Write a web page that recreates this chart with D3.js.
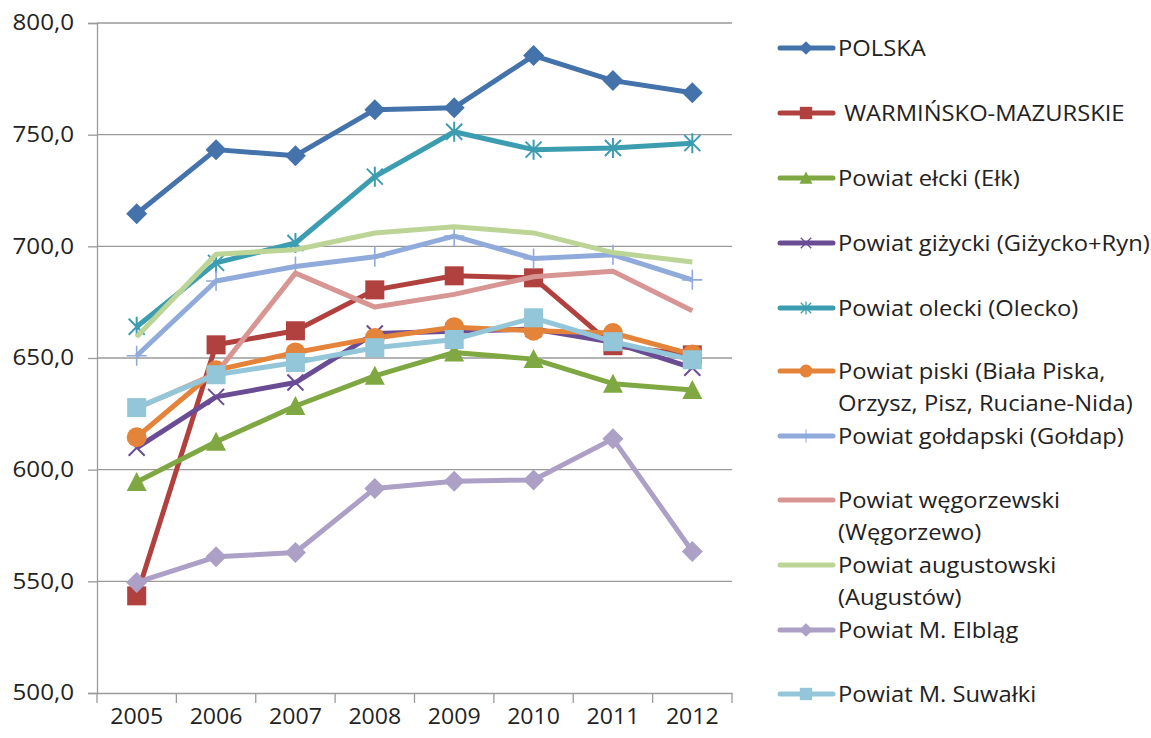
<!DOCTYPE html>
<html><head>
<meta charset="utf-8">
<script src="https://d3js.org/d3.v7.min.js"></script>
<style>
  body { margin: 0; background: #fff; }
  text { font-family: "Open Sans", Lato, sans-serif; fill: #222; white-space: pre; }
</style>
</head>
<body>
<svg id="chart" width="1151" height="738"></svg>
<script>
// data
const years = ["2005", "2006", "2007", "2008", "2009", "2010", "2011", "2012"];
const yTicks = [500, 550, 600, 650, 700, 750, 800];

const polska      = [714.6, 743.3, 740.6, 761.2, 762.1, 785.4, 774.2, 768.8];
const warmMaz     = [543.5, 655.9, 662.2, 680.5, 686.8, 685.9, 655.5, 651.4];
const elk         = [594.5, 612.5, 628.5, 642.0, 652.5, 649.5, 638.5, 635.7];
const gizycki     = [609.8, 632.6, 639.0, 661.0, 662.0, 663.0, 657.0, 645.6];
const olecki      = [664.0, 692.6, 701.5, 731.2, 751.3, 743.3, 744.0, 746.2];
const piski       = [614.5, 644.5, 652.5, 659.0, 663.8, 662.2, 661.2, 651.6];
const goldapski   = [651.0, 684.5, 691.0, 695.3, 704.6, 694.5, 696.2, 685.0];
const wegorzewski = [627.5, 643.0, 688.0, 672.8, 678.5, 686.4, 688.8, 671.2];
const augustowski = [659.5, 696.5, 698.5, 706.0, 708.8, 706.0, 697.2, 693.0];
const elblag      = [549.5, 561.0, 562.9, 591.6, 594.8, 595.4, 613.8, 563.4];
const suwalki     = [627.8, 642.5, 648.0, 654.6, 658.3, 668.0, 657.3, 649.2];

const seriesNames = ["POLSKA", " WARMIŃSKO-MAZURSKIE", "Powiat ełcki (Ełk)", "Powiat giżycki (Giżycko+Ryn)",
  "Powiat olecki (Olecko)", "Powiat piski (Biała Piska,\nOrzysz, Pisz, Ruciane-Nida)", "Powiat gołdapski (Gołdap)",
  "Powiat węgorzewski\n(Węgorzewo)", "Powiat augustowski\n(Augustów)", "Powiat M. Elbląg", "Powiat M. Suwałki"];
const seriesValues = [polska, warmMaz, elk, gizycki, olecki, piski, goldapski, wegorzewski, augustowski, elblag, suwalki];
const seriesColors = ["#4472AB", "#B0413E", "#7FA843", "#6A4C95", "#3C9DB1", "#E4833A", "#8FAADB", "#D79593", "#BCD596", "#ACA0C6", "#93C6D8"];
const seriesMarkers = ["diamond", "square", "triangle", "x", "star", "circle", "plus", "none", "none", "diamond", "square"];

const svg = d3.select("#chart");
const margin = {left: 97, top: 23, right: 419, bottom: 45};
const W = 1151 - margin.left - margin.right;
const H = 738 - margin.top - margin.bottom;

const x = d3.scaleBand().domain(years).range([0, W]);
const y = d3.scaleLinear().domain([500, 800]).range([H, 0]);

const g = svg.append("g").attr("transform", `translate(${margin.left},${margin.top})`);

// gridlines
g.selectAll("line.grid").data(yTicks.slice(1)).join("line")
  .attr("x1", 0).attr("x2", W)
  .attr("y1", d => y(d)).attr("y2", d => y(d))
  .style("stroke", "#9a9a9a").style("stroke-width", 1.3);

// y axis
const yAxis = g.append("g").call(d3.axisLeft(y).tickValues(yTicks).tickSize(9).tickPadding(11)
  .tickFormat(d => d3.format(".1f")(d).replace(".", ",")));
yAxis.select(".domain").attr("stroke", "#9a9a9a").attr("stroke-width", 1.3);
yAxis.selectAll(".tick line").attr("stroke", "#9a9a9a").attr("stroke-width", 1.3);
yAxis.selectAll("text").style("font-size", "21px").attr("font-family", null).style("fill", "#222")
  .attr("transform", "scale(1.15,1)");

// x axis
const xAxis = g.append("g").attr("transform", `translate(0,${H})`)
  .call(d3.axisBottom(x).tickSize(0).tickPadding(16));
xAxis.select(".domain").attr("stroke", "#9a9a9a").attr("stroke-width", 1.3);
xAxis.selectAll("text").style("font-size", "21px").attr("font-family", null).style("fill", "#222")
  .attr("transform", "scale(1.1,1)");
const bounds = years.map(d => x(d)).concat([W]);
xAxis.selectAll("line.sep").data(bounds).join("line")
  .attr("x1", d => d).attr("x2", d => d).attr("y1", 0).attr("y2", 10)
  .attr("stroke", "#9a9a9a").attr("stroke-width", 1.3);

const cx = d => x(d) + x.bandwidth() / 2;
const line = d3.line().x((d, i) => cx(years[i])).y(d => y(d));

function drawMarker(sel, type, color, px, py) {
  const s = 10.5;
  if (type === "diamond") {
    sel.append("path").attr("d", `M${px},${py - s}L${px + s},${py}L${px},${py + s}L${px - s},${py}Z`).attr("fill", color);
  } else if (type === "square") {
    sel.append("rect").attr("x", px - 9.5).attr("y", py - 9.5).attr("width", 19).attr("height", 19).attr("fill", color);
  } else if (type === "triangle") {
    sel.append("path").attr("d", `M${px},${py - 10}L${px + 10},${py + 9}L${px - 10},${py + 9}Z`).attr("fill", color);
  } else if (type === "circle") {
    sel.append("circle").attr("cx", px).attr("cy", py).attr("r", 10).attr("fill", color);
  } else if (type === "x") {
    sel.append("path").attr("d", `M${px - 8},${py - 8}L${px + 8},${py + 8}M${px - 8},${py + 8}L${px + 8},${py - 8}`)
      .attr("stroke", color).attr("stroke-width", 2);
  } else if (type === "star") {
    sel.append("path").attr("d", `M${px - 8},${py - 8}L${px + 8},${py + 8}M${px - 8},${py + 8}L${px + 8},${py - 8}M${px},${py - 10}L${px},${py + 10}`)
      .attr("stroke", color).attr("stroke-width", 2);
  } else if (type === "plus") {
    sel.append("path").attr("d", `M${px - 10},${py}L${px + 10},${py}M${px},${py - 10}L${px},${py + 10}`)
      .attr("stroke", color).attr("stroke-width", 1.6);
  }
}

// series
seriesValues.forEach((vals, k) => {
  const sg = g.append("g");
  sg.append("path").datum(vals).attr("d", line)
    .attr("fill", "none").attr("stroke", seriesColors[k]).attr("stroke-width", 5)
    .attr("stroke-linejoin", "round");
  vals.forEach((v, i) => drawMarker(sg, seriesMarkers[k], seriesColors[k], cx(years[i]), y(v)));
});

// legend
const legendY = [48, 113, 178, 243, 308, 371, 436, 500, 565, 630, 694];
const lg = svg.append("g");
seriesNames.forEach((name, k) => {
  const ly = legendY[k];
  lg.append("line").attr("x1", 780).attr("x2", 833).attr("y1", ly).attr("y2", ly)
    .attr("stroke", seriesColors[k]).attr("stroke-width", 5).attr("stroke-linecap", "round");
  const mk = seriesMarkers[k];
  const ms = lg.append("g");
  drawMarker(ms, mk, seriesColors[k], 806, ly);
  if (mk !== "none") ms.attr("transform", `translate(${806 * 0.35},${ly * 0.35}) scale(0.65)`);
  const t = lg.append("text").attr("transform", `translate(838,${ly + 8}) scale(1.08,1)`)
    .style("font-size", "22px");
  name.split("\n").forEach((part, j) => {
    t.append("tspan").attr("x", 0).attr("dy", j === 0 ? 0 : 32).text(part);
  });
});
</script>
</body>
</html>
